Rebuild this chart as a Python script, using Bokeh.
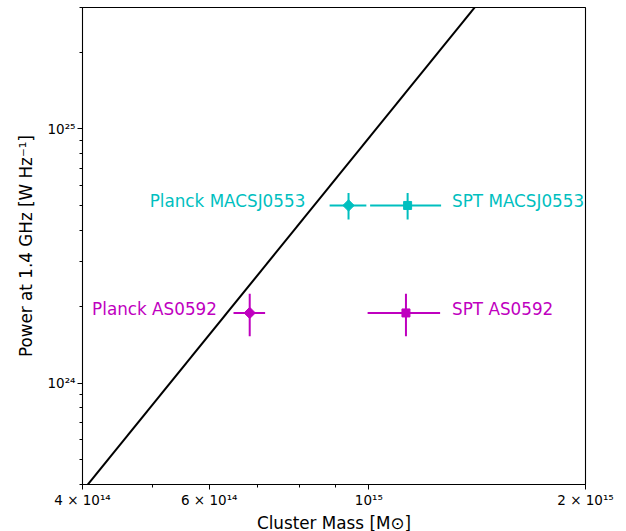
import numpy as np
from bokeh.plotting import figure
from bokeh.models import FixedTicker, Range1d
from bokeh.core.properties import value
from bokeh.embed import file_html
from bokeh.resources import INLINE

# ---- data ----
names = ["MACSJ0553", "AS0592"]
colors = ["#00bfbf", "#bf00bf"]
mass_planck = [9.37e14, 6.83e14]
mass_planck_err = [0.55e14, 0.345e14]
mass_spt = [1.132e15, 1.126e15]
mass_spt_err = [0.128e15, 0.13e15]
power = [5.0e24, 1.89e24]
power_err = [0.6e24, 0.36e24]

relation_mass = [4.0e14, 1.5e15]
relation_power = [3.77e23, 3.79e25]

x_major = [4e14, 6e14, 1e15, 2e15]
x_major_labels = ["4 × 10¹⁴", "6 × 10¹⁴", "10¹⁵", "2 × 10¹⁵"]
x_minor = [5e14, 7e14, 8e14, 9e14]
y_major = [1e24, 1e25]
y_major_labels = ["10²⁴", "10²⁵"]
y_minor = [4e23, 5e23, 6e23, 7e23, 8e23, 9e23,
           2e24, 3e24, 4e24, 5e24, 6e24, 7e24, 8e24, 9e24,
           2e25, 3e25]

planck_label_text = ["Planck MACSJ0553", "Planck AS0592"]
planck_label_x = [8.16e14, 6.15e14]
spt_label_text = ["SPT MACSJ0553", "SPT AS0592"]
spt_label_x = [1.305e15, 1.305e15]

FONT = "DejaVu Sans"

p = figure(frame_width=503, frame_height=477,
           x_axis_type="log", y_axis_type="log",
           x_range=Range1d(4e14, 2e15), y_range=Range1d(4e23, 3e25),
           output_backend="svg", toolbar_location=None,
           min_border_left=82, min_border_right=35,
           min_border_top=7, min_border_bottom=0)

p.grid.visible = False
p.outline_line_color = "black"
p.outline_line_width = 1.1
p.background_fill_color = "white"
p.border_fill_color = "white"

# relation line
p.line(relation_mass, relation_power, line_color="black", line_width=2)

for i in range(len(names)):
    c = colors[i]
    # Planck errorbars
    p.segment(x0=[mass_planck[i] - mass_planck_err[i]], y0=[power[i]],
              x1=[mass_planck[i] + mass_planck_err[i]], y1=[power[i]],
              line_color=c, line_width=2)
    p.segment(x0=[mass_planck[i]], y0=[power[i] - power_err[i]],
              x1=[mass_planck[i]], y1=[power[i] + power_err[i]],
              line_color=c, line_width=2)
    p.scatter([mass_planck[i]], [power[i]], marker="square", angle=np.pi / 4,
              size=8, fill_color=c, line_color=c, line_width=1)
    # SPT errorbars
    p.segment(x0=[mass_spt[i] - mass_spt_err[i]], y0=[power[i]],
              x1=[mass_spt[i] + mass_spt_err[i]], y1=[power[i]],
              line_color=c, line_width=2)
    p.segment(x0=[mass_spt[i]], y0=[power[i] - power_err[i]],
              x1=[mass_spt[i]], y1=[power[i] + power_err[i]],
              line_color=c, line_width=2)
    p.scatter([mass_spt[i]], [power[i]], marker="square",
              size=8, fill_color=c, line_color=c, line_width=1)
    # labels
    p.text([planck_label_x[i]], [power[i]], text=[planck_label_text[i]],
           text_align="right", text_baseline="middle", y_offset=-4,
           text_color=c, text_font=value(FONT), text_font_size=value("16.8px"))
    p.text([spt_label_x[i]], [power[i]], text=[spt_label_text[i]],
           text_align="left", text_baseline="middle", y_offset=-4,
           text_color=c, text_font=value(FONT), text_font_size=value("16.8px"))

# axes
p.xaxis.ticker = FixedTicker(ticks=x_major, minor_ticks=x_minor)
p.xaxis.major_label_overrides = {t: l for t, l in zip(x_major, x_major_labels)}
p.yaxis.ticker = FixedTicker(ticks=y_major, minor_ticks=y_minor)
p.yaxis.major_label_overrides = {t: l for t, l in zip(y_major, y_major_labels)}

for ax in (p.xaxis, p.yaxis):
    ax.major_tick_in = 0
    ax.major_tick_out = 5
    ax.minor_tick_in = 0
    ax.minor_tick_out = 3
    ax.axis_line_color = "black"
    ax.major_tick_line_color = "black"
    ax.minor_tick_line_color = "black"
    ax.major_label_text_font = FONT
    ax.major_label_text_font_size = "13.5px"
    ax.major_label_text_color = "black"
    ax.axis_label_text_font = FONT
    ax.axis_label_text_font_size = "16.8px"
    ax.axis_label_text_font_style = "normal"
    ax.axis_label_text_color = "black"
    ax.major_label_standoff = 2

p.xaxis.axis_label = "Cluster Mass [M⊙]"
p.xaxis.axis_label_standoff = 2
p.yaxis.axis_label = "Power at 1.4 GHz [W Hz⁻¹]"
p.yaxis.axis_label_standoff = 8

open("out.html", "w").write(file_html(p, INLINE))
